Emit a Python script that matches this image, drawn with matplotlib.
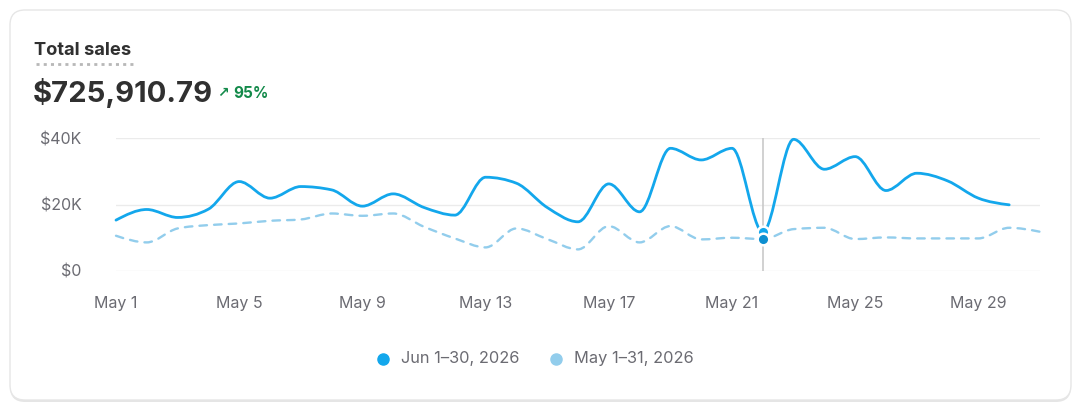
import numpy as np
import matplotlib
matplotlib.use("Agg")
import matplotlib.pyplot as plt
from matplotlib.path import Path
from matplotlib.patches import PathPatch, FancyBboxPatch

plt.rcParams['font.family'] = ['Inter', 'DejaVu Sans']

# data (daily sales, USD)
current_label = "Jun 1\u201330, 2026"
previous_label = "May 1\u201331, 2026"
current_sales = [15300, 18500, 16100, 18600, 26900, 21900, 25400, 24400, 19500, 23200,
                 19100, 16800, 28200, 26400, 19100, 14800, 26200, 17800, 36900, 33400,
                 36900, 11700, 39600, 30600, 34400, 24200, 29400, 27100, 21900, 19900]
previous_sales = [10600, 8600, 12800, 13800, 14300, 15100, 15500, 17300, 16600, 17300,
                  13300, 9800, 7100, 12800, 9600, 6500, 13500, 8600, 13500, 9500,
                  10000, 9600, 12600, 13000, 9600, 10100, 9800, 9800, 9800, 13000, 11800]
tick_days = [0, 4, 8, 12, 16, 20, 24, 28]
tick_labels = ["May 1", "May 5", "May 9", "May 13", "May 17", "May 21", "May 25", "May 29"]
y_ticks = [0, 20000, 40000]
y_labels = ["$0", "$20K", "$40K"]
hover_day = 21

BLUE = "#13a7ec"
LIGHT = "#92cdec"
GRAY = "#6b6b72"


def monotone_path(y):
    # cubic bezier path with monotone-x tangents (like d3.curveMonotoneX)
    y = np.asarray(y, float)
    x = np.arange(len(y), dtype=float)
    s = np.diff(y)
    m = np.zeros(len(y))
    for i in range(1, len(y) - 1):
        s0, s1 = s[i - 1], s[i]
        p = (s0 + s1) / 2
        m[i] = (np.sign(s0) + np.sign(s1)) * min(abs(s0), abs(s1), 0.5 * abs(p))
    m[0] = (3 * s[0] - m[1]) / 2
    m[-1] = (3 * s[-1] - m[-2]) / 2
    verts = [(x[0], y[0])]
    codes = [Path.MOVETO]
    for i in range(len(y) - 1):
        verts += [(x[i] + 1 / 3, y[i] + m[i] / 3),
                  (x[i + 1] - 1 / 3, y[i + 1] - m[i + 1] / 3),
                  (x[i + 1], y[i + 1])]
        codes += [Path.CURVE4] * 3
    return Path(verts, codes)


fig = plt.figure(figsize=(10.82, 4.12), dpi=100)
fig.patch.set_facecolor("white")

# card background in pixel coords
bg = fig.add_axes([0, 0, 1, 1])
bg.set_xlim(0, 1082)
bg.set_ylim(412, 0)
bg.axis("off")
bg.add_patch(FancyBboxPatch((10, 12), 1061, 390, boxstyle="round,pad=0,rounding_size=15",
                            fc="#d4d4d4", ec="none", alpha=0.6))
bg.add_patch(FancyBboxPatch((10, 10), 1061, 390, boxstyle="round,pad=0,rounding_size=15",
                            fc="white", ec="#e6e6e6", lw=1))

bg.text(34, 50, "Total sales", fontsize=13.2, fontweight="bold", color="#303030", va="center")
bg.plot([36, 134], [63.5, 63.5], color="#b8b8b8", lw=2, ls=(0, (1.1, 1.5)))
bg.text(33, 93, "$725,910.79", fontsize=21, fontweight="bold", color="#303030", va="center")
bg.text(217, 93, "\u2197", fontsize=10, fontweight="bold", color="#138a4a", va="center",
        family=["DejaVu Sans"])
bg.text(233, 93, "95%", fontsize=11, fontweight="bold", color="#138a4a", va="center")

# legend
bg.scatter([383], [359], s=64, color=BLUE, zorder=3)
bg.text(401, 359, current_label, fontsize=11.8, color=GRAY, va="center")
bg.scatter([556], [359], s=64, color=LIGHT, zorder=3)
bg.text(574, 359, previous_label, fontsize=11.8, color=GRAY, va="center")

# chart
ax = fig.add_axes([116 / 1082, (412 - 271) / 412, (1040 - 116) / 1082, 133 / 412])
ax.set_facecolor("none")
ax.set_xlim(0, 30)
ax.set_ylim(0, 40000)
for sp in ax.spines.values():
    sp.set_visible(False)
ax.set_yticks(y_ticks)
ax.set_yticklabels(y_labels)
ax.set_xticks(tick_days)
ax.set_xticklabels(tick_labels)
ax.tick_params(length=0, colors=GRAY, labelsize=11.5)
ax.tick_params(axis="y", pad=25)
ax.tick_params(axis="x", pad=18)
ax.grid(axis="y", color="#ebebeb", lw=1)
ax.set_axisbelow(True)

ax.axvline(hover_day, color="#c9c9c9", lw=1.2, zorder=1)
ax.add_patch(PathPatch(monotone_path(previous_sales), fill=False, ec=LIGHT, lw=1.7,
                       ls=(0, (3.2, 3)), capstyle="round", zorder=2, clip_on=False))
ax.add_patch(PathPatch(monotone_path(current_sales), fill=False, ec=BLUE, lw=2,
                       capstyle="round", joinstyle="round", zorder=3, clip_on=False))
ax.scatter([hover_day], [current_sales[hover_day]], s=70, color=BLUE, ec="white", lw=1.8,
           zorder=4, clip_on=False)
ax.scatter([hover_day], [previous_sales[hover_day]], s=70, color="#0e8fd0", ec="white", lw=1.8,
           zorder=5, clip_on=False)

fig.savefig("out.png", dpi=100, facecolor="white")
